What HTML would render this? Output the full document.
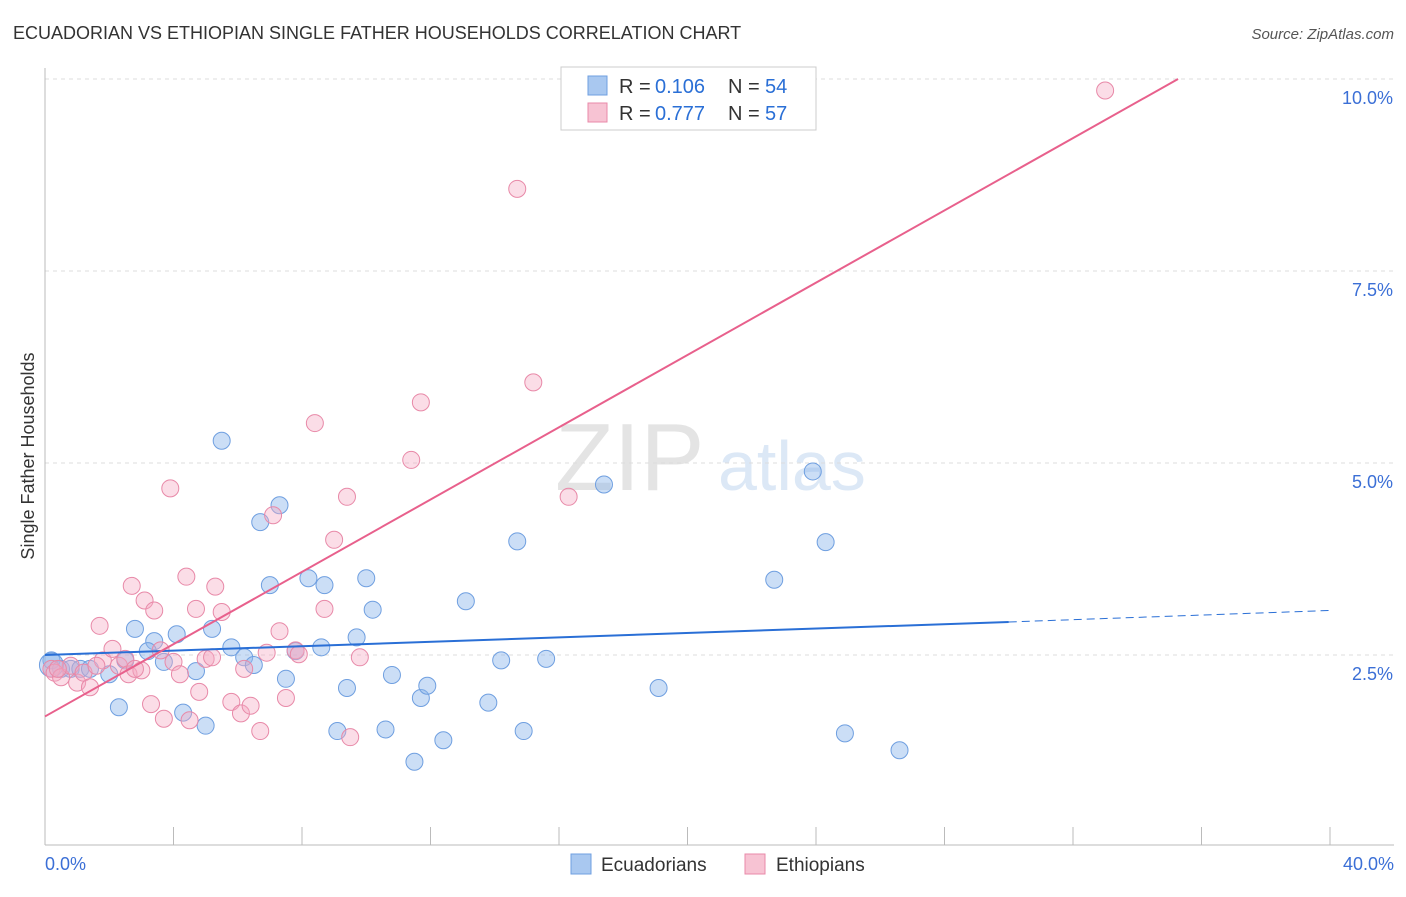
<!DOCTYPE html>
<html><head><meta charset="utf-8"><style>
body{margin:0;background:#fff;font-family:"Liberation Sans",sans-serif;}
svg text{font-family:"Liberation Sans",sans-serif;}
</style></head><body>
<svg id="chart" width="1406" height="892" viewBox="0 0 1406 892" xmlns="http://www.w3.org/2000/svg">
<text x="13" y="39" font-size="18" fill="#333">ECUADORIAN VS ETHIOPIAN SINGLE FATHER HOUSEHOLDS CORRELATION CHART</text>
<text x="1394" y="39" font-size="15" fill="#555" text-anchor="end" font-style="italic">Source: ZipAtlas.com</text>
<text x="555" y="490" font-size="96" fill="#e4e4e4" font-family="Liberation Serif">ZIP</text>
<text x="718" y="490" font-size="70" fill="#dce8f6">atlas</text>
<text transform="translate(34,456) rotate(-90)" font-size="18" fill="#333" text-anchor="middle">Single Father Households</text>
<g id="grid"></g>
<g id="axes"></g>
<g id="points"></g>
<g id="lines"></g>
<g>
<rect x="561" y="67" width="255" height="63" fill="#fff" stroke="#ccc"/>
<rect x="588" y="76" width="19" height="19" fill="#a9c8f0" stroke="#6f9fe0"/>
<rect x="588" y="103" width="19" height="19" fill="#f7c3d3" stroke="#e889a8"/>
<text x="619" y="93" font-size="20" fill="#333">R = </text>
<text x="655" y="93" font-size="20" fill="#2a6fd6">0.106</text>
<text x="728" y="93" font-size="20" fill="#333">N = </text>
<text x="765" y="93" font-size="20" fill="#2a6fd6">54</text>
<text x="619" y="120" font-size="20" fill="#333">R = </text>
<text x="655" y="120" font-size="20" fill="#2a6fd6">0.777</text>
<text x="728" y="120" font-size="20" fill="#333">N = </text>
<text x="765" y="120" font-size="20" fill="#2a6fd6">57</text>
</g>
<g>
<rect x="571" y="854" width="20" height="20" fill="#a9c8f0" stroke="#6f9fe0"/>
<text x="601" y="871" font-size="19" fill="#333">Ecuadorians</text>
<rect x="745" y="854" width="20" height="20" fill="#f7c3d3" stroke="#e889a8"/>
<text x="776" y="871" font-size="19" fill="#333">Ethiopians</text>
</g>
</svg>
<script>
const yTicks=[2.5,5.0,7.5,10.0];
const xTickLabels=["0.0%","40.0%"];
const ecuX=[0.2,0.5,0.8,1.1,1.4,2.0,2.3,2.5,2.8,3.4,3.2,3.7,4.1,4.3,4.7,5.0,5.2,5.5,5.8,6.2,6.5,6.7,7.0,7.3,7.5,7.8,8.2,8.6,8.7,9.4,9.1,9.7,10.0,10.2,10.6,10.8,11.5,11.7,11.9,12.4,13.1,13.8,14.2,14.7,14.9,15.6,17.4,19.1,22.7,23.9,24.3,24.9,26.6,0.2];
const ecuY=[2.43,2.32,2.32,2.32,2.32,2.25,1.82,2.43,2.84,2.68,2.55,2.41,2.77,1.75,2.29,1.58,2.84,5.29,2.60,2.47,2.37,4.23,3.41,4.45,2.19,2.55,3.50,2.60,3.41,2.07,1.51,2.73,3.50,3.09,1.53,2.24,1.11,1.94,2.10,1.39,3.20,1.88,2.43,3.98,1.51,2.45,4.72,2.07,3.48,4.89,3.97,1.48,1.26,2.37];
const ethX=[0.2,0.3,0.5,0.8,1.0,1.2,1.4,1.7,1.8,2.1,2.3,2.5,2.6,2.7,3.0,3.1,3.3,3.4,3.7,3.9,4.0,4.2,4.4,4.5,4.7,4.8,5.0,5.2,5.3,5.5,5.8,6.1,6.2,6.4,6.7,6.9,7.1,7.3,7.5,7.8,8.4,8.7,9.0,9.4,9.5,9.8,11.4,11.7,14.7,15.2,16.3,33.0,0.4,1.6,3.6,2.8,7.9];
const ethY=[2.32,2.27,2.21,2.36,2.14,2.27,2.08,2.88,2.43,2.58,2.36,2.45,2.25,3.40,2.30,3.21,1.86,3.08,1.67,4.67,2.41,2.25,3.52,1.65,3.10,2.02,2.45,2.47,3.39,3.06,1.89,1.74,2.32,1.84,1.51,2.53,4.32,2.81,1.94,2.56,5.52,3.10,4.00,4.56,1.43,2.47,5.04,5.79,8.57,6.05,4.56,9.85,2.32,2.36,2.56,2.32,2.51];
const ecuTrend=[2.5,2.93,3.08];
const ethTrend=[1.7,10.0];
const NS="http://www.w3.org/2000/svg";
const X0=45,X1=1330,YB=847,PX=76.8;
function sx(v){return X0+(v/40)*(X1-X0);}
function sy(v){return YB-v*PX;}
function mk(tag,attrs,parent){const e=document.createElementNS(NS,tag);for(const k in attrs)e.setAttribute(k,attrs[k]);parent.appendChild(e);return e;}
const grid=document.getElementById('grid'),axes=document.getElementById('axes'),pts=document.getElementById('points'),lines=document.getElementById('lines');
yTicks.forEach(t=>{
 const l=mk('line',{x1:45,x2:1394,y1:sy(t),y2:sy(t),stroke:'#ddd','stroke-dasharray':'4,4'},grid);
 
 
 const tx=mk('text',{x:1393,y:sy(t)+25,'font-size':18,fill:'#3b6fd6','text-anchor':'end'},axes);
 tx.textContent=t.toFixed(1)+'%';
 
 
});
const xa=mk('line',{x1:45,x2:1394,y1:845,y2:845,stroke:'#bbb'},axes);


const ya=mk('line',{x1:45,x2:45,y1:68,y2:845,stroke:'#bbb'},axes);


for(let i=0;i<=10;i++){
 const t=mk('line',{x1:sx(i*4),x2:sx(i*4),y1:827,y2:845,stroke:'#bbb'},axes);
 
 
}
[[0,45,'start'],[1,1394,'end']].forEach(([i,x,a])=>{
 const t=mk('text',{x:x,y:870,'font-size':18,fill:'#3b6fd6','text-anchor':a},axes);
 t.textContent=xTickLabels[i];
 
 
});
ecuX.forEach((x,i)=>{
 const c=mk('circle',{cx:sx(x),cy:sy(ecuY[i]),r:(i===ecuX.length-1?12:8.5),fill:'rgba(140,182,236,0.45)',stroke:'#6f9fe0','stroke-width':1},pts);
 
 
});
ethX.forEach((x,i)=>{
 const c=mk('circle',{cx:sx(x),cy:sy(ethY[i]),r:8.5,fill:'rgba(245,170,195,0.4)',stroke:'#e889a8','stroke-width':1},pts);
 
 
});
const b1=mk('line',{x1:sx(0),y1:sy(ecuTrend[0]),x2:sx(30),y2:sy(ecuTrend[1]),stroke:'#2a6fd6','stroke-width':2},lines);


const b2=mk('line',{x1:sx(30),y1:sy(ecuTrend[1]),x2:sx(40),y2:sy(ecuTrend[2]),stroke:'#2a6fd6','stroke-width':1,'stroke-dasharray':'8,5'},lines);


const xEnd=35.27;
const p1=mk('line',{x1:sx(0),y1:sy(ethTrend[0]),x2:sx(xEnd),y2:sy(ethTrend[1]),stroke:'#e8608c','stroke-width':2},lines);


</script>
</body></html>
